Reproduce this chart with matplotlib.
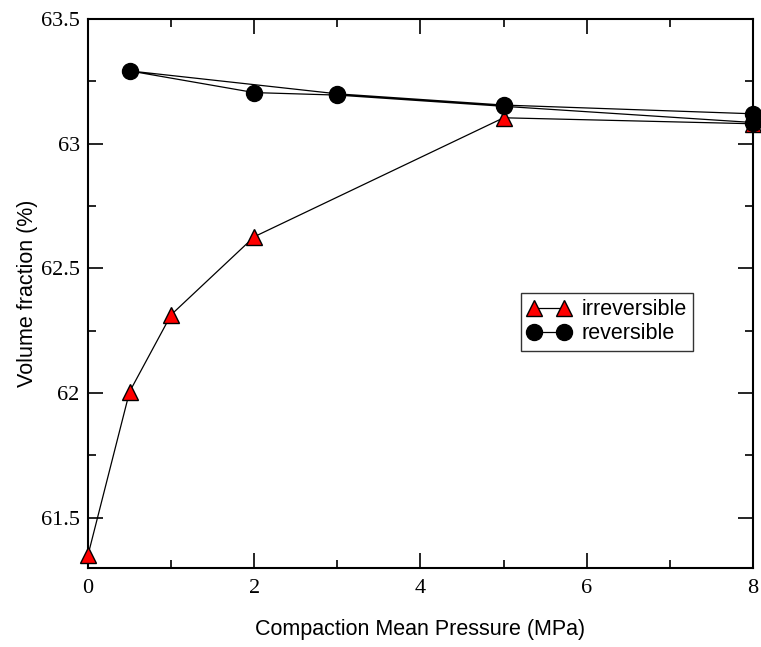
import matplotlib
matplotlib.use("Agg")
import matplotlib.pyplot as plt
from matplotlib.ticker import MultipleLocator, FormatStrFormatter

# irreversible compaction
irr_p = [0, 0.5, 1, 2, 5, 8]
irr_vf = [61.35, 62.005, 62.314, 62.627, 63.104, 63.08]

# reversible (unload then reload)
rev_p = [8, 5, 3, 0.5, 2, 3, 5, 8]
rev_vf = [63.12, 63.155, 63.2, 63.292, 63.205, 63.195, 63.15, 63.085]

fig = plt.figure(figsize=(7.61, 6.47), dpi=100)
ax = fig.add_axes([0.1156, 0.1226, 0.8739, 0.848])

ax.plot(irr_p, irr_vf, color='black', lw=0.9, marker='^', ms=12,
        mfc='red', mec='black', mew=1.0, clip_on=False, zorder=5,
        label='irreversible')
ax.plot(rev_p, rev_vf, color='black', lw=0.9, marker='o', ms=11.5,
        mfc='black', mec='black', clip_on=False, zorder=6,
        label='reversible')

ax.set_xlim(0, 8)
ax.set_ylim(61.3, 63.5)
ax.xaxis.set_major_locator(MultipleLocator(2))
ax.xaxis.set_minor_locator(MultipleLocator(1))
ax.yaxis.set_major_locator(MultipleLocator(0.5))
ax.yaxis.set_minor_locator(MultipleLocator(0.25))
ax.yaxis.set_major_formatter(FormatStrFormatter('%g'))

ax.tick_params(which='both', direction='in', top=True, right=True, width=1.2)
ax.tick_params(which='major', length=11, pad=6)
ax.tick_params(axis='x', which='major', pad=8)
ax.tick_params(which='minor', length=5.5)
for lab in ax.get_xticklabels() + ax.get_yticklabels():
    lab.set_family('Liberation Serif')
    lab.set_fontsize(16)
for s in ax.spines.values():
    s.set_linewidth(1.5)

ax.set_xlabel('Compaction Mean Pressure (MPa)', family='Liberation Sans',
              fontsize=15.5, labelpad=15)
ax.set_ylabel('Volume fraction (%)', family='Liberation Sans',
              fontsize=15.5, labelpad=2)

leg = ax.legend(loc='upper left', bbox_to_anchor=(0.651, 0.501), numpoints=2,
                prop={'family': 'Liberation Sans', 'size': 15.5},
                frameon=True, fancybox=False, edgecolor='black',
                handlelength=2.0, handletextpad=0.5, borderpad=0.3,
                labelspacing=0.15, borderaxespad=0)
leg.get_frame().set_linewidth(1.0)

fig.savefig('out.png', dpi=100)
